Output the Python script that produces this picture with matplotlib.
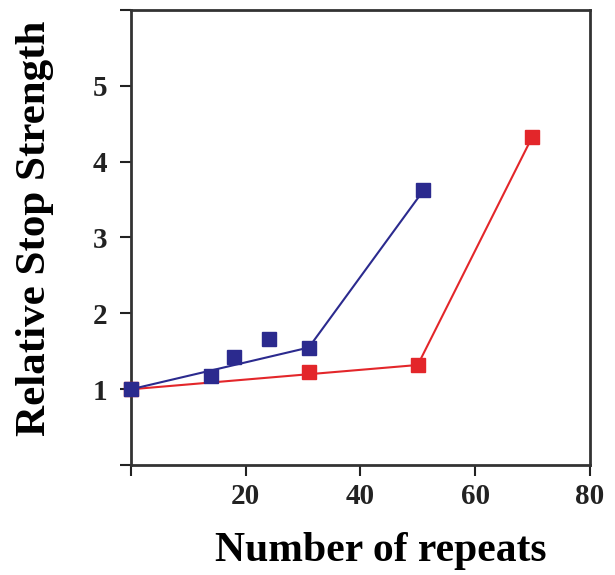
import matplotlib
matplotlib.use("Agg")
import matplotlib.pyplot as plt

# Data
blue_x = [0, 14, 18, 24, 31, 51]
blue_y = [1.0, 1.17, 1.42, 1.66, 1.55, 3.62]
blue_line_x = [0, 31, 51]
blue_line_y = [1.0, 1.55, 3.62]

red_x = [0, 31, 50, 70]
red_y = [1.0, 1.23, 1.32, 4.33]
red_line_x = [0, 50, 70]
red_line_y = [1.0, 1.32, 4.33]

x_ticks = [0, 20, 40, 60, 80]
x_labels = ["", "20", "40", "60", "80"]
y_ticks = [0, 1, 2, 3, 4, 5, 6]
y_labels = ["", "1", "2", "3", "4", "5", ""]

plt.rcParams['font.family'] = ['Liberation Serif', 'DejaVu Serif']
plt.rcParams['font.weight'] = 'bold'

fig = plt.figure(figsize=(6.15, 5.75), dpi=100)
ax = fig.add_axes([0.213, 0.191, 0.746, 0.792])

blue = '#2b2a8e'
red = '#e3262a'

ax.plot(red_line_x, red_line_y, color=red, lw=1.5, zorder=2, clip_on=False)
ax.plot(red_x, red_y, 's', color=red, ms=10, zorder=3, clip_on=False)
ax.plot(blue_line_x, blue_line_y, color=blue, lw=1.5, zorder=4, clip_on=False)
ax.plot(blue_x, blue_y, 's', color=blue, ms=10, zorder=5, clip_on=False)

ax.set_xlim(0, 80)
ax.set_ylim(0, 6)
ax.set_xticks(x_ticks)
ax.set_xticklabels(x_labels)
ax.set_yticks(y_ticks)
ax.set_yticklabels(y_labels)
ax.tick_params(direction='out', length=8, width=1.5, labelsize=21, colors='#222222')
ax.tick_params(axis='x', pad=5)
ax.tick_params(axis='y', pad=9)
for lab in ax.get_xticklabels() + ax.get_yticklabels():
    lab.set_fontweight('bold')
for s in ax.spines.values():
    s.set_linewidth(2)
    s.set_color('#333333')

ax.set_xlabel("Number of repeats", fontsize=30, fontweight='bold', labelpad=16)
ax.xaxis.label.set_x(0.545)
ax.set_ylabel("Relative Stop Strength", fontsize=31, fontweight='bold', labelpad=28)
ax.yaxis.label.set_y(0.52)

fig.savefig("out.png", dpi=100)
